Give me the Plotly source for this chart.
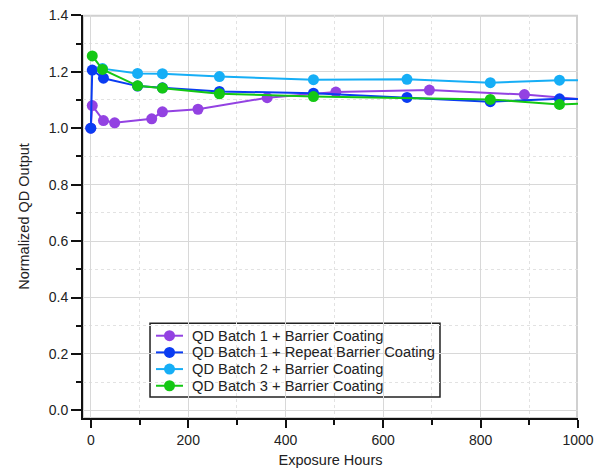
import plotly.graph_objects as go

# Data
names = ["QD Batch 1 + Barrier Coating",
         "QD Batch 1 + Repeat Barrier Coating",
         "QD Batch 2 + Barrier Coating",
         "QD Batch 3 + Barrier Coating"]

x_b1 = [0, 3, 26, 49, 125, 147, 220, 362, 503, 695, 890, 1060]
y_b1 = [1.000, 1.080, 1.027, 1.019, 1.033, 1.058, 1.067, 1.108, 1.128, 1.135, 1.119, 1.095]

x_b1r = [0, 3, 26, 96, 147, 264, 457, 649, 820, 962, 1060]
y_b1r = [1.000, 1.206, 1.177, 1.149, 1.143, 1.130, 1.124, 1.109, 1.094, 1.104, 1.102]

x_b2 = [24, 96, 147, 264, 457, 649, 820, 962, 1060]
y_b2 = [1.211, 1.194, 1.193, 1.183, 1.172, 1.173, 1.161, 1.170, 1.170]

x_b3 = [3, 24, 96, 147, 264, 457, 820, 962, 1060]
y_b3 = [1.256, 1.208, 1.150, 1.142, 1.122, 1.112, 1.102, 1.084, 1.091]

x_ticks = [0, 200, 400, 600, 800, 1000]
x_minor = [100, 300, 500, 700, 900]
y_ticks = [0.0, 0.2, 0.4, 0.6, 0.8, 1.0, 1.2, 1.4]
y_minor = [0.1, 0.3, 0.5, 0.7, 0.9, 1.1, 1.3]

colors = ["#9342e2", "#0a3cf2", "#16aef6", "#14c814"]

fig = go.Figure()
for nm, xs, ys, c in zip(names, [x_b1, x_b1r, x_b2, x_b3],
                         [y_b1, y_b1r, y_b2, y_b3], colors):
    fig.add_trace(go.Scatter(x=xs, y=ys, name=nm, mode="lines+markers",
                             line=dict(color=c, width=2),
                             marker=dict(color=c, size=11), showlegend=False))

# Compact legend (tight rows as in the reference), drawn on an overlay axis in [0,1]
leg_x0, leg_x1, leg_y0, leg_y1 = 0.1354, 0.7212, 0.052, 0.235
row_top, row_step = 0.2042, 0.0414
sym_x0, sym_x1, txt_x = 0.1475, 0.2020, 0.2162
annotations = []
for i, (nm, c) in enumerate(zip(names, colors)):
    yy = row_top - i * row_step
    fig.add_trace(go.Scatter(x=[sym_x0, (sym_x0 + sym_x1) / 2, sym_x1], y=[yy, yy, yy],
                             mode="lines", line=dict(color=c, width=2),
                             xaxis="x2", yaxis="y2", showlegend=False, hoverinfo="skip"))
    fig.add_trace(go.Scatter(x=[(sym_x0 + sym_x1) / 2], y=[yy], mode="markers",
                             marker=dict(color=c, size=11), name=nm,
                             xaxis="x2", yaxis="y2", showlegend=False, hoverinfo="skip"))
    annotations.append(dict(x=txt_x, y=yy, xref="paper", yref="paper", text=nm,
                            showarrow=False, xanchor="left", yanchor="middle",
                            font=dict(size=14.7, color="#222")))

font_family = "Liberation Sans, Arial, sans-serif"

# page body has an 8px margin; size the figure to sit inside the 602x470 window
fig.update_layout(
    width=586, height=462,
    margin=dict(l=75, r=16, t=7, b=52),
    paper_bgcolor="white", plot_bgcolor="white",
    font=dict(family=font_family, size=13, color="#222"),
    showlegend=False,
    annotations=annotations,
    shapes=[dict(type="rect", xref="paper", yref="paper", x0=0, x1=0.998, y0=0, y1=0.998,
                 line=dict(color="#d0d0d0", width=2), layer="between"),
            dict(type="rect", xref="paper", yref="paper", x0=leg_x0, x1=leg_x1,
                 y0=leg_y0, y1=leg_y1, fillcolor="white",
                 line=dict(color="#222", width=1.5), layer="between")],
    xaxis=dict(
        range=[-16, 1000], tickvals=x_ticks, automargin=False,
        ticklabeloverflow="allow",
        showgrid=True, gridcolor="#d8d8d8", gridwidth=1,
        zeroline=False, showline=True, linecolor="#111", linewidth=2,
        ticks="outside", ticklen=8, tickwidth=2, tickcolor="#111",
        tickfont=dict(size=14, color="#222"),
        minor=dict(tickvals=x_minor, ticks="outside", ticklen=5,
                   tickwidth=2, tickcolor="#111", showgrid=True,
                   gridcolor="#e2e2e2", griddash="dot", gridwidth=1),
        title=dict(text="Exposure Hours", font=dict(size=14.5, color="#222"), standoff=8),
    ),
    yaxis=dict(
        range=[-0.027, 1.401], tickvals=y_ticks, automargin=False,
        ticklabeloverflow="allow",
        tickformat=".1f",
        showgrid=True, gridcolor="#d8d8d8", gridwidth=1,
        zeroline=False, showline=True, linecolor="#111", linewidth=2,
        ticks="outside", ticklen=10, tickwidth=2, tickcolor="#111",
        tickfont=dict(size=14, color="#222"),
        minor=dict(tickvals=y_minor, ticks="outside",
                   ticklen=5, tickwidth=2, tickcolor="#111", showgrid=True,
                   gridcolor="#e2e2e2", griddash="dot", gridwidth=1),
        title=dict(text="Normalized QD Output", font=dict(size=14.5, color="#222"), standoff=16),
    ),
    xaxis2=dict(overlaying="x", range=[0, 1], visible=False, fixedrange=True),
    yaxis2=dict(overlaying="y", range=[0, 1], visible=False, fixedrange=True),
)

fig.write_html("out.html")
